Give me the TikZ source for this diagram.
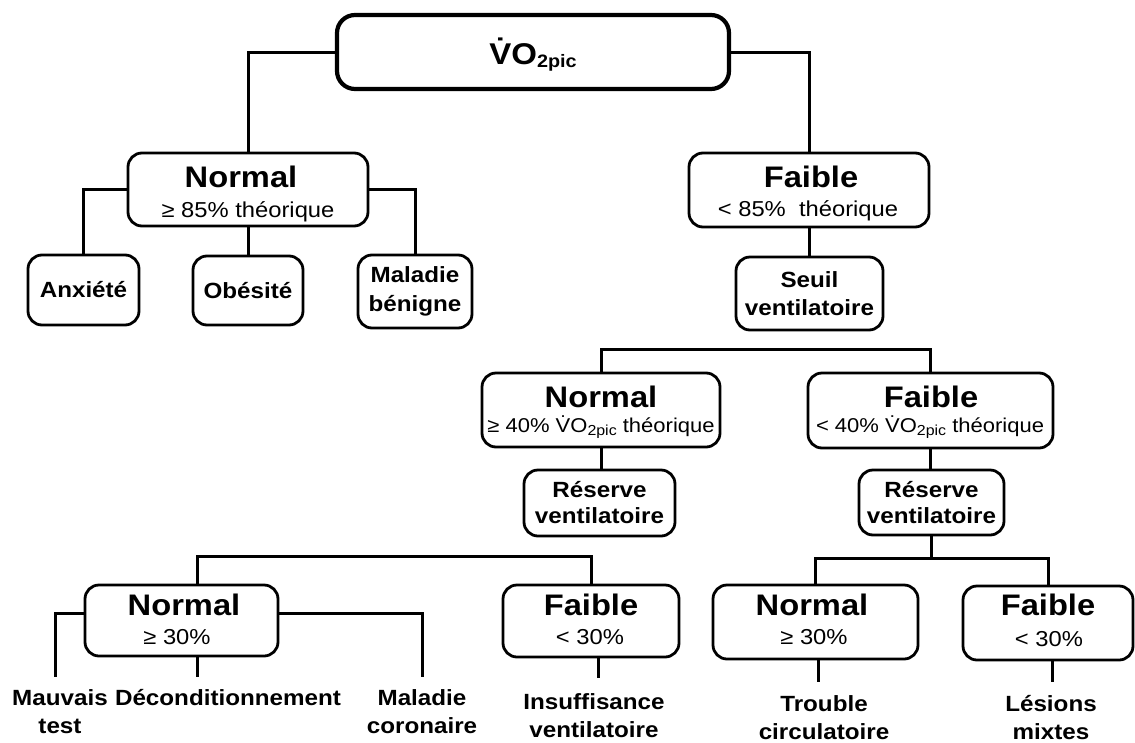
\documentclass[tikz,border=0pt]{standalone}
\usepackage{fontspec}
\setmainfont{Liberation Sans}[FakeStretch=1.1]

\newcommand\hdfont{\bfseries\fontsize{29.7}{30}\selectfont}
\newcommand\sbfont{\fontsize{21.6}{24}\selectfont}
\newcommand\lffont{\bfseries\fontsize{22}{28.5}\selectfont}
\newcommand\vo[1]{\.{V}O\raisebox{-3pt}{\fontsize{#1}{#1}\selectfont 2pic}}
\newcommand\twoln[2]{\begin{tabular}[t]{@{}c@{}}#1\\#2\end{tabular}}

\begin{document}
\begin{tikzpicture}[x=1pt, y=-1pt,
    box/.style={draw, line width=2.8pt, rounded corners=14pt, inner sep=0pt, align=center},
    link/.style={line width=3pt},
    head/.style={anchor=base, inner sep=0pt, font=\hdfont},
    cond/.style={anchor=base, inner sep=0pt, font=\sbfont},
    leaf/.style={anchor=base, inner sep=0pt, font=\lffont}]

    \useasboundingbox (0,0) rectangle (1135,742);

    % top box
    \node[box, line width=4.2pt, rounded corners=18pt, minimum width=392pt, minimum height=74pt] (vo) at (533,52) {};
    \node[anchor=base, inner sep=0pt, font=\bfseries\fontsize{30}{30}\selectfont] (vot) at (533,64) {\vo{18}};

    % boxes with a heading and a threshold
    \foreach \nm/\x/\y/\w/\h in {n1/248/189.5/240/73, f1/809/190/240/74,
        n2/601/410/238/74, f2/930.5/410.5/245/75,
        n3/181.5/620.5/193/71, f3/591/621/176/72,
        n4/815.5/622/205/74, f4/1048/623/170/74} {
        \node[box, minimum width=\w pt, minimum height=\h pt] (\nm) at (\x,\y) {};
    }
    \foreach \nm/\x/\y/\t in {n1/241/187.6/Normal, f1/811/187.6/Faible,
        n2/601/407.6/Normal, f2/931/407.6/Faible,
        n3/184/615.6/Normal, f3/591/615.6/Faible,
        n4/812/615.6/Normal, f4/1048/615.6/Faible} {
        \node[head] (\nm h) at (\x,\y) {\t};
    }
    \node[cond] (n1c) at (248,217.7) {≥ 85\% théorique};
    \node[cond] (f1c) at (808,216.7) {< 85\%~ théorique};
    \node[cond, font=\fontsize{20}{24}\selectfont] (n2c) at (601,432.5) {≥ 40\% \vo{14.5} théorique};
    \node[cond, font=\fontsize{20}{24}\selectfont] (f2c) at (930,432.5) {< 40\% \vo{14.5} théorique};
    \node[cond] (n3c) at (177,644.7) {≥ 30\%};
    \node[cond] (f3c) at (590,644.7) {< 30\%};
    \node[cond] (n4c) at (814,644.7) {≥ 30\%};
    \node[cond] (f4c) at (1049,646.7) {< 30\%};

    % small boxes
    \node[box, font=\lffont, minimum width=111pt, minimum height=70pt] (anx) at (83.5,290) {Anxiété};
    \node[box, font=\lffont, minimum width=110pt, minimum height=69pt] (obe) at (248,290.5) {Obésité};
    \node[box, font=\lffont, minimum width=114pt, minimum height=73pt] (mal) at (415,291.5) {Maladie\\bénigne};
    \node[box, font=\lffont, minimum width=147pt, minimum height=73pt] (seu) at (809.5,293.5) {Seuil\\ventilatoire};
    \node[box, font=\bfseries\fontsize{22}{26}\selectfont, minimum width=151pt, minimum height=66pt] (r1) at (599.5,503) {Réserve\\ventilatoire};
    \node[box, font=\bfseries\fontsize{22}{26}\selectfont, minimum width=145pt, minimum height=65pt] (r2) at (931.5,502.5) {Réserve\\ventilatoire};

    % diagnoses at the bottom
    \node[leaf] (mt) at (60,705) {\twoln{Mauvais}{test}};
    \node[leaf] (dc) at (228,705) {Déconditionnement};
    \node[leaf] (mc) at (422,705) {\twoln{Maladie}{coronaire}};
    \node[leaf] (iv) at (594,709) {\twoln{Insuffisance}{ventilatoire}};
    \node[leaf] (tc) at (824,711) {\twoln{Trouble}{circulatoire}};
    \node[leaf] (lm) at (1051,711) {\twoln{Lésions}{mixtes}};

    % junctions and free ends
    \coordinate (j1) at (766,349);
    \coordinate (j2) at (393,556);
    \coordinate (j3) at (930,558);
    \coordinate (e1) at (55,677);
    \coordinate (e2) at (197,677);
    \coordinate (e3) at (422,677);
    \coordinate (e4) at (598,678);
    \coordinate (e5) at (818,682);
    \coordinate (e6) at (1052,682);

    % connectors
    \path[draw, link] (vo.west) -| (n1.north);
    \path[draw, link] (vo.east) -| (f1.north);
    \path[draw, link] (n1.west) -| (anx.north);
    \path[draw, link] (n1.south) -- (obe.north);
    \path[draw, link] (n1.east) -| (mal.north);
    \path[draw, link] (f1.south) -- (f1.south |- seu.north);
    \path[draw, link] (n2.north) |- (j1) -| (f2.north);
    \path[draw, link] (n2.south) -- (n2.south |- r1.north);
    \path[draw, link] (f2.south) -- (f2.south |- r2.north);
    \path[draw, link] (n3.north -| e2) |- (j2) -| (f3.north);
    \path[draw, link] (r2.south) -- (r2.south |- j3);
    \path[draw, link] (n4.north) |- (j3) -| (f4.north);
    \path[draw, link] ([yshift=7.5pt]n3.west) -| (e1);
    \path[draw, link] (n3.south -| e2) -- (e2);
    \path[draw, link] ([yshift=7.5pt]n3.east) -| (e3);
    \path[draw, link] (f3.south -| e4) -- (e4);
    \path[draw, link] (n4.south -| e5) -- (e5);
    \path[draw, link] (f4.south -| e6) -- (e6);

\end{tikzpicture}
\end{document}
